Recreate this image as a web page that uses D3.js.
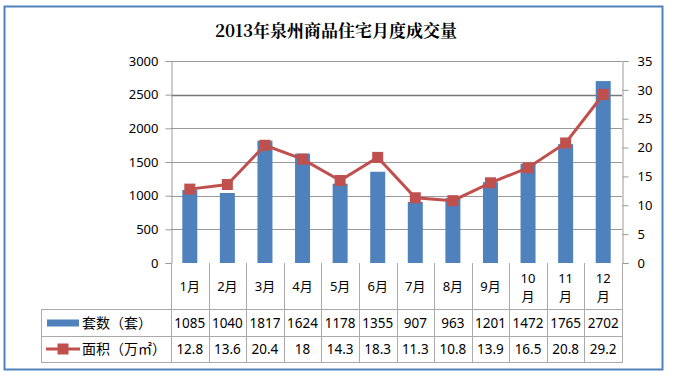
<!DOCTYPE html>
<html>
<head>
<meta charset="utf-8">
<script src="https://cdn.jsdelivr.net/npm/d3@7"></script>
<style>
  body { margin: 0; background: #fff; }
  svg { display: block; }
</style>
</head>
<body>
<svg width="679" height="384"></svg>
<script>
const months = ["1月", "2月", "3月", "4月", "5月", "6月", "7月", "8月", "9月", "10月", "11月", "12月"];
const units = [1085, 1040, 1817, 1624, 1178, 1355, 907, 963, 1201, 1472, 1765, 2702];
const area = [12.8, 13.6, 20.4, 18, 14.3, 18.3, 11.3, 10.8, 13.9, 16.5, 20.8, 29.2];
const seriesNames = ["套数（套）", "面积（万㎡）"];
const leftTicks = [0, 500, 1000, 1500, 2000, 2500, 3000];
const rightTicks = [0, 5, 10, 15, 20, 25, 30, 35];

const svg = d3.select("svg");
const font = "'Noto Sans', 'Noto Sans CJK SC', sans-serif";
const blue = "#4f81bd";
const red = "#c0504d";

// outer frame
svg.append("rect")
  .attr("x", 4.5).attr("y", 6.5)
  .attr("width", 658).attr("height", 363)
  .attr("fill", "#fff")
  .attr("stroke", "#4f81bd")
  .attr("stroke-width", 2);

svg.append("text")
  .attr("x", 336).attr("y", 37)
  .attr("text-anchor", "middle")
  .attr("font-family", "'Noto Serif CJK SC', 'Noto Sans CJK SC', serif")
  .attr("font-weight", "bold")
  .attr("font-size", 17)
  .attr("fill", "#000")
  .text("2013年泉州商品住宅月度成交量");

const pLeft = 171, pRight = 622, pTop = 61, pBottom = 263;

const x = d3.scaleBand().domain(months).range([pLeft, pRight]);
const yL = d3.scaleLinear().domain([0, 3000]).range([pBottom, pTop]);
const yR = d3.scaleLinear().domain([0, 35]).range([pBottom, pTop]);

// gridlines
svg.append("g").selectAll("line")
  .data(leftTicks.slice(1))
  .join("line")
  .attr("x1", pLeft).attr("x2", pRight)
  .attr("y1", d => Math.round(yL(d)) + 0.5)
  .attr("y2", d => Math.round(yL(d)) + 0.5)
  .attr("stroke", d => d === 2500 ? "#777" : "#999")
  .attr("stroke-width", d => d === 2500 ? 1.6 : 1);

// left axis
const axL = svg.append("g")
  .attr("transform", `translate(${pLeft + 0.5},0)`)
  .call(d3.axisLeft(yL).tickValues(leftTicks).tickFormat(d3.format("d")).tickSize(6).tickPadding(7));
axL.select(".domain").attr("stroke", "#999");
axL.selectAll(".tick line").attr("stroke", "#999");
axL.selectAll("text").attr("font-family", font).attr("font-size", 13).attr("fill", "#000");

// right axis
const axR = svg.append("g")
  .attr("transform", `translate(${pRight + 0.5},0)`)
  .call(d3.axisRight(yR).tickValues(rightTicks).tickSize(6).tickPadding(9));
axR.select(".domain").attr("stroke", "#999");
axR.selectAll(".tick line").attr("stroke", "#999");
axR.selectAll("text").attr("font-family", font).attr("font-size", 13).attr("fill", "#000");

// bars
const barW = 15;
svg.append("g").selectAll("rect")
  .data(units)
  .join("rect")
  .attr("x", (d, i) => x(months[i]) + x.bandwidth() / 2 - barW / 2)
  .attr("y", d => yL(d))
  .attr("width", barW)
  .attr("height", d => pBottom - yL(d))
  .attr("fill", blue);

// line
const cx = (d, i) => x(months[i]) + x.bandwidth() / 2;
svg.append("path")
  .datum(area)
  .attr("fill", "none")
  .attr("stroke", red)
  .attr("stroke-width", 3)
  .attr("d", d3.line().x(cx).y(d => yR(d)));

svg.append("g").selectAll("rect")
  .data(area)
  .join("rect")
  .attr("x", (d, i) => cx(d, i) - 5.5)
  .attr("y", d => yR(d) - 5.5)
  .attr("width", 11).attr("height", 11)
  .attr("fill", red);

// data table
const tLeft = 41;
const rows = [pBottom, 309, 336, 362];
const grid = svg.append("g").attr("stroke", "#aaa").attr("fill", "none");
months.forEach(m => {
  grid.append("line")
    .attr("x1", Math.round(x(m)) + 0.5).attr("x2", Math.round(x(m)) + 0.5)
    .attr("y1", pBottom).attr("y2", rows[3]);
});
grid.append("line")
  .attr("x1", pRight + 0.5).attr("x2", pRight + 0.5)
  .attr("y1", pBottom).attr("y2", rows[3]);
grid.append("line")
  .attr("x1", tLeft + 0.5).attr("x2", tLeft + 0.5)
  .attr("y1", rows[1]).attr("y2", rows[3]);
[1, 2, 3].forEach(r => {
  grid.append("line")
    .attr("x1", tLeft).attr("x2", pRight + 1)
    .attr("y1", rows[r] + 0.5).attr("y2", rows[r] + 0.5);
});

// month header
const hdr = svg.append("g").attr("font-family", font).attr("font-size", 13).attr("fill", "#000").attr("text-anchor", "middle");
months.forEach(m => {
  const c = x(m) + x.bandwidth() / 2;
  if (m.length > 2) {
    hdr.append("text").attr("x", c).attr("y", 283).text(m.slice(0, -1));
    hdr.append("text").attr("x", c).attr("y", 301).text("月");
  } else {
    hdr.append("text").attr("x", c).attr("y", 291).text(m);
  }
});

// values
const vals = svg.append("g").attr("font-family", font).attr("font-size", 13.5).attr("fill", "#000").attr("text-anchor", "middle");
[units, area].forEach((arr, r) => {
  arr.forEach((v, i) => {
    vals.append("text")
      .attr("x", x(months[i]) + x.bandwidth() / 2)
      .attr("y", (rows[r + 1] + rows[r + 2]) / 2 + 5)
      .text(v);
  });
});

// legend keys
const ly1 = (rows[1] + rows[2]) / 2, ly2 = (rows[2] + rows[3]) / 2;
svg.append("rect").attr("x", 47).attr("y", ly1 - 3).attr("width", 32).attr("height", 7).attr("fill", blue);
svg.append("line").attr("x1", 46).attr("x2", 80).attr("y1", ly2).attr("y2", ly2).attr("stroke", red).attr("stroke-width", 3);
svg.append("rect").attr("x", 57.5).attr("y", ly2 - 5.5).attr("width", 11).attr("height", 11).attr("fill", red);

const leg = svg.append("g").attr("font-family", "'Noto Sans CJK SC', sans-serif").attr("font-size", 14).attr("fill", "#000");
leg.append("text").attr("x", 82).attr("y", ly1 + 5).text(seriesNames[0]);
leg.append("text").attr("x", 82).attr("y", ly2 + 5).text(seriesNames[1]);
</script>
</body>
</html>
